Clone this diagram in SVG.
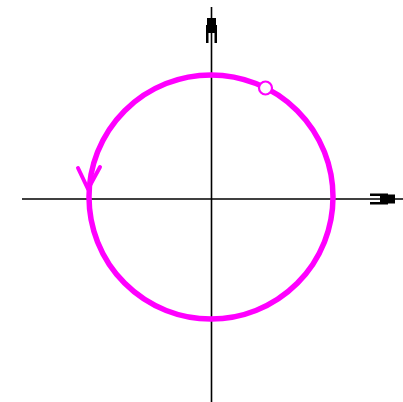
<svg xmlns="http://www.w3.org/2000/svg" width="403" height="402" viewBox="0 0 403 402">
<style>
.axis{stroke:#000;stroke-width:1.6;fill:none}
.orbit{stroke:#ff00ff;stroke-width:5.5;fill:none}
.mark{stroke:#ff00ff;stroke-width:4;fill:none;stroke-linecap:round;stroke-linejoin:round}
.pt{stroke:#ff00ff;stroke-width:2.2;fill:#fff}
</style>
<defs>
<path id="ah" fill="#000" d="M0,-4.5 L0,4.5 L-7,4.5 L-7,5.5 L-25,5.5 L-25,3 L-15,3 L-15,-3 L-25,-3 L-25,-5.5 L-7,-5.5 L-7,-4.5 Z"/>
</defs>
<rect width="403" height="402" fill="#fff"/>
<g id="axes">
<line class="axis" x1="211.5" y1="7" x2="211.5" y2="402"/>
<line class="axis" x1="22" y1="199" x2="403" y2="199"/>
<use href="#ah" transform="translate(395,199)"/>
<use href="#ah" transform="translate(211.5,18) rotate(-90)"/>
</g>
<g id="orbit">
<circle class="orbit" cx="211" cy="197" r="122"/>
<polyline class="mark" points="78,168 88,189 100,167"/>
<circle class="pt" cx="265.5" cy="88" r="6.5"/>
</g>
</svg>
